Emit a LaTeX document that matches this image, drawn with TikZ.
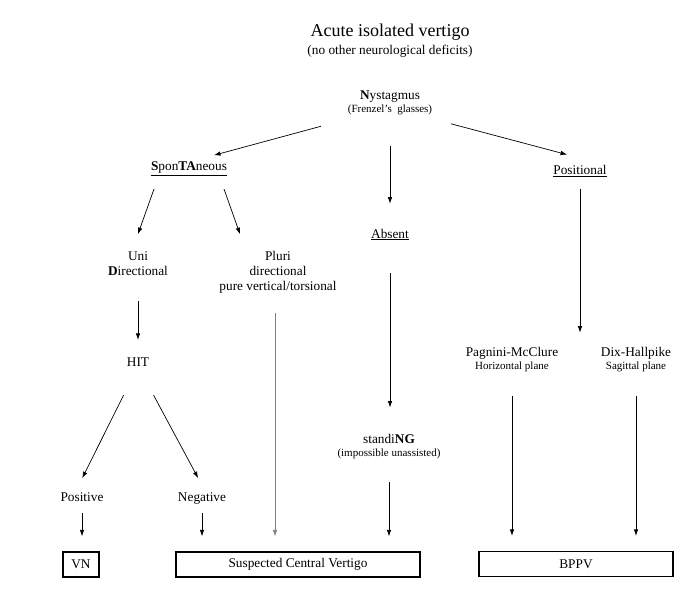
\documentclass[tikz,border=0pt]{standalone}
\usepackage{fontspec}
\setmainfont{Liberation Serif}
\usetikzlibrary{arrows.meta}

\newcommand{\subtxt}{\fontsize{11}{13}\selectfont}
\tikzset{
  lbl/.style={inner sep=0pt, align=center, anchor=base, font=\fontsize{13.3}{15}\selectfont},
  outcome/.style={draw, line width=1.2pt, minimum height=25pt, inner sep=0pt, font=\fontsize{13.3}{15}\selectfont},
  arr/.style={-{Latex[length=6.5pt,width=4.5pt]}, line width=0.7pt},
}

\begin{document}
\begin{tikzpicture}[x=1pt,y=-1pt]
	\useasboundingbox (0,0) rectangle (699,591);
	% title
	\node[lbl, font=\fontsize{18}{20}\selectfont] (title) at (390,37) {Acute isolated vertigo};
	\node[lbl] (subt) at (390,55) {(no other neurological deficits)};
	% first level
	\node[lbl] (nys) at (390,113) {\textbf{N}ystagmus\\[-2pt]{\subtxt (Frenzel's\ \ glasses)}};
	\node[lbl] (spon) at (189,171) {\underline{\textbf{S}pon\textbf{TA}neous}};
	\node[lbl] (absent) at (390,238) {\underline{Absent}};
	\node[lbl] (posi) at (580,174.5) {\underline{Positional}};
	% spontaneous branch
	\node[lbl] (uni) at (138,275) {Uni\\\textbf{D}irectional};
	\node[lbl] (pluri) at (278,290.5) {Pluri\\directional\\pure vertical/torsional};
	\node[lbl] (hit) at (138,366) {HIT};
	\node[lbl] (pos) at (82,501.7) {Positive};
	\node[lbl] (neg) at (202,501.7) {Negative};
	% absent branch
	\node[lbl] (standing) at (389,456) {standi\textbf{NG}\\[-2pt]{\subtxt (impossible unassisted)}};
	% positional branch
	\node[lbl] (pagnini) at (512,369) {Pagnini-McClure\\[-2pt]{\subtxt Horizontal plane}};
	\node[lbl] (dix) at (636,369) {Dix-Hallpike\\[-2pt]{\subtxt Sagittal plane}};
	% outcomes
	\node[outcome, minimum width=36pt] (vn) at (81,564.5) {VN};
	\node[outcome, minimum width=244pt] (scv) at (298,564.5) {Suspected Central Vertigo};
	\node[outcome, minimum width=194pt] (bppv) at (576,564) {BPPV};

	\draw[arr, shorten <=71.5pt, shorten >=25.9pt] ([yshift=8pt]nys.south) -- (spon.north);
	\draw[arr, shorten <=63.1pt, shorten >=13.4pt] ([yshift=8pt]nys.south) -- ([yshift=7pt]posi.north);
	\draw[arr, shorten <=30.6pt, shorten >=24.9pt] (nys.south) -- (nys.south |- absent.north);

	\draw[arr, shorten <=13.8pt, shorten >=17.9pt] ([xshift=-30.4pt]spon.south) -- ([xshift=-6pt]uni.north);
	\draw[arr, shorten <=13.8pt, shorten >=17.9pt] ([xshift=30.4pt]spon.south) -- ([xshift=-32pt]pluri.north);
	\draw[arr, shorten <=26pt, shorten >=17.2pt] (uni.south) -- (hit.north);
	\draw[arr, shorten <=32.3pt, shorten >=16.2pt] (hit.south) -- ([xshift=-7pt]pos.north);
	\draw[arr, shorten <=32.9pt, shorten >=16.6pt] (hit.south) -- ([xshift=4pt]neg.north);
	\draw[arr, shorten <=11.3pt, shorten >=15pt] (pos.south) -- (pos.south |- vn.north);
	\draw[arr, shorten <=8.4pt, shorten >=15pt] (neg.south) -- (neg.south |- scv.north);
	\draw[arr, gray, shorten <=19pt, shorten >=15pt] ([xshift=-3pt]pluri.south) -- ([xshift=-3pt]pluri.south |- scv.north);

	\draw[arr, shorten <=33pt, shorten >=26pt] (absent.south) -- (absent.south |- standing.north);
	\draw[arr, shorten <=23.6pt, shorten >=15pt] (standing.south) -- (standing.south |- scv.north);

	\draw[arr, shorten <=11.8pt, shorten >=13.9pt] (posi.south) -- (posi.south |- pagnini.north);
	\draw[arr, shorten <=24.6pt, shorten >=15pt] (pagnini.south) -- (pagnini.south |- bppv.north);
	\draw[arr, shorten <=24.6pt, shorten >=15pt] (dix.south) -- (dix.south |- bppv.north);
\end{tikzpicture}
\end{document}
